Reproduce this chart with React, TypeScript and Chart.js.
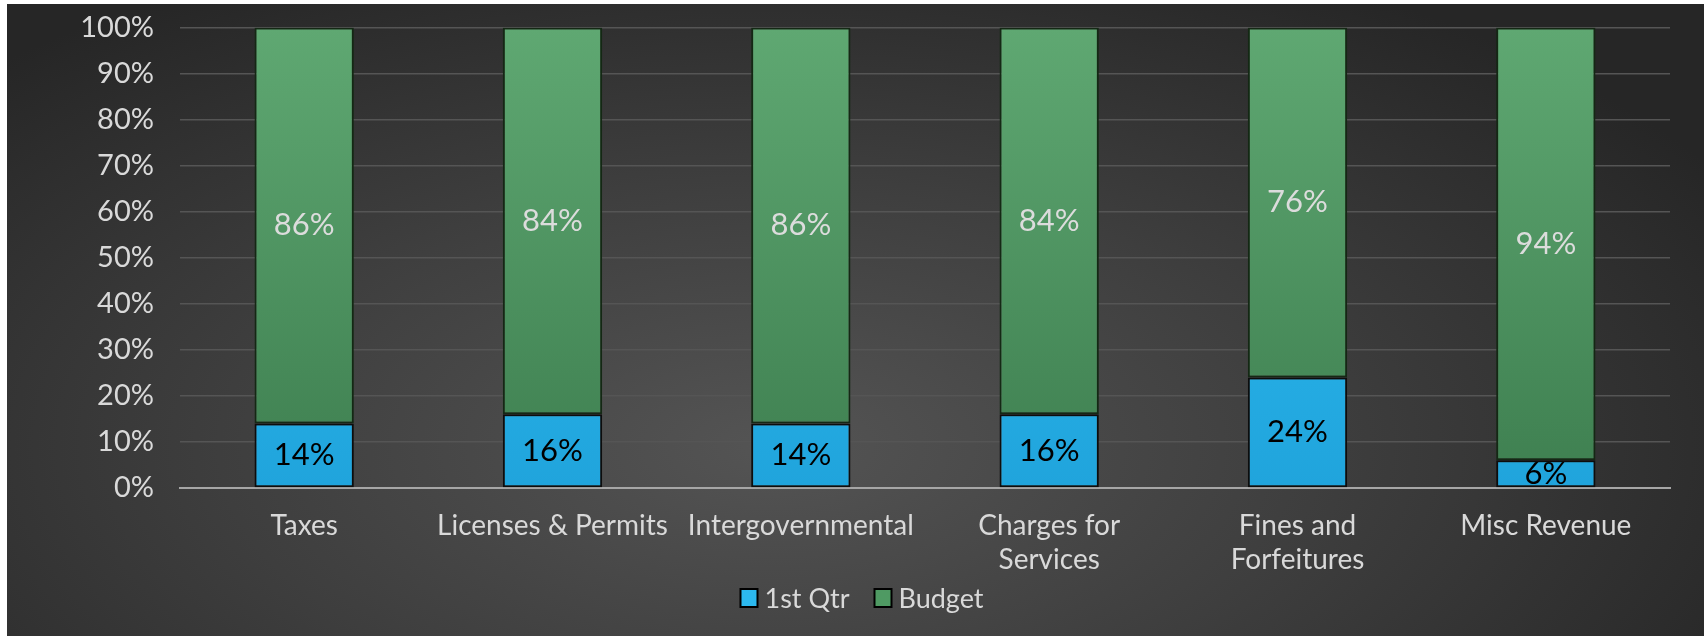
import React, { useEffect, useRef } from "react";
import { Chart, registerables } from "chart.js";

Chart.register(...registerables);

const categories: (string | string[])[] = [
  "Taxes",
  "Licenses & Permits",
  "Intergovernmental",
  ["Charges for", "Services"],
  ["Fines and", "Forfeitures"],
  "Misc Revenue",
];
const firstQtr = [14, 16, 14, 16, 24, 6];
const budget = [86, 84, 86, 84, 76, 94];
const yTicks = [0, 10, 20, 30, 40, 50, 60, 70, 80, 90, 100];
const seriesNames = ["1st Qtr", "Budget"];
const seriesColors = ["#2cb9ef", "#4f9a63"];

const FONT = "Lato, 'Open Sans', sans-serif";

const dataLabels = {
  id: "dataLabels",
  afterDatasetsDraw(chart: any) {
    const ctx = chart.ctx;
    ctx.save();
    ctx.font = `31px ${FONT}`;
    ctx.textAlign = "center";
    ctx.textBaseline = "middle";
    chart.data.datasets.forEach((ds: any, di: number) => {
      const meta = chart.getDatasetMeta(di);
      meta.data.forEach((el: any, i: number) => {
        const v = ds.data[i];
        ctx.fillStyle = di === 0 ? "#000000" : "#dcdcdc";
        ctx.fillText(`${v}%`, el.x, (el.y + el.base) / 2);
      });
    });
    ctx.restore();
  },
};

const customLegend = {
  id: "customLegend",
  afterDraw(chart: any) {
    const ctx = chart.ctx;
    ctx.save();
    ctx.font = `27px ${FONT}`;
    ctx.textBaseline = "middle";
    ctx.textAlign = "left";
    const boxW = 17;
    const boxH = 18;
    const gapBox = 7;
    const gapItem = 25;
    const widths = seriesNames.map((t) => ctx.measureText(t).width);
    const total =
      widths.reduce((a, w) => a + boxW + gapBox + w, 0) + gapItem * (seriesNames.length - 1);
    const cy = 594;
    let x = 855 - total / 2;
    seriesNames.forEach((t, i) => {
      ctx.fillStyle = seriesColors[i];
      ctx.fillRect(x, cy - boxH / 2, boxW, boxH);
      ctx.strokeStyle = "#000000";
      ctx.lineWidth = 2;
      ctx.strokeRect(x, cy - boxH / 2, boxW, boxH);
      ctx.fillStyle = "#d9d9d9";
      ctx.fillText(t, x + boxW + gapBox, cy + 1);
      x += boxW + gapBox + widths[i] + gapItem;
    });
    ctx.restore();
  },
};

function vGrad(chart: any, top: string, bottom: string) {
  const { ctx, chartArea } = chart;
  if (!chartArea) return top;
  const g = ctx.createLinearGradient(0, chartArea.top, 0, chartArea.bottom);
  g.addColorStop(0, top);
  g.addColorStop(1, bottom);
  return g;
}

export default function App() {
  const ref = useRef<HTMLCanvasElement | null>(null);
  useEffect(() => {
    if (!ref.current) return;
    const chart = new Chart(ref.current, {
      type: "bar",
      data: {
        labels: categories as any,
        datasets: [
          {
            label: seriesNames[0],
            data: firstQtr,
            backgroundColor: (c: any) => vGrad(c.chart, "#31c2f6", "#20a4dc"),
            borderColor: "#0d0d0d",
            borderWidth: 2,
            borderSkipped: false,
            barPercentage: 0.8,
            categoryPercentage: 0.5,
          },
          {
            label: seriesNames[1],
            data: budget,
            backgroundColor: (c: any) => vGrad(c.chart, "#5fa872", "#3e7f50"),
            borderColor: "#142814",
            borderWidth: 2,
            borderSkipped: false,
            barPercentage: 0.8,
            categoryPercentage: 0.5,
          },
        ],
      },
      options: {
        animation: false,
        responsive: false,
        maintainAspectRatio: false,
        layout: { padding: { left: 0, right: 34, top: 0, bottom: 0 } },
        plugins: {
          tooltip: { enabled: false },
          legend: { display: false },
        },
        scales: {
          x: {
            stacked: true,
            grid: { display: false, drawTicks: false },
            border: { display: true, color: "#a6a6a6", width: 2 },
            ticks: {
              color: "#d9d9d9",
              font: { family: FONT, size: 28, lineHeight: 1.22 },
              padding: 21,
              maxRotation: 0,
              autoSkip: false,
            },
            afterFit: (s: any) => {
              s.height = 148;
            },
          },
          y: {
            stacked: true,
            min: 0,
            max: 100,
            afterBuildTicks: (s: any) => {
              s.ticks = yTicks.map((v) => ({ value: v }));
            },
            grid: {
              color: "#555555",
              lineWidth: 1.5,
              drawTicks: true,
              tickLength: 20,
              tickColor: "rgba(0,0,0,0)",
            },
            border: { display: false },
            ticks: {
              color: "#d9d9d9",
              font: { family: FONT, size: 29 },
              padding: 6,
              callback: (v: any) => `${v}%`,
            },
            afterFit: (s: any) => {
              s.width = 173;
            },
          },
        },
      },
      plugins: [dataLabels, customLegend],
    });
    return () => chart.destroy();
  }, []);

  return (
    <div
      style={{
        position: "absolute",
        left: 7,
        top: 4,
        width: 1697,
        height: 632,
        background:
          "radial-gradient(ellipse 65% 85% at 45% 70%, #545454 0%, #3e3e3e 50%, #262626 100%)",
      }}
    >
      <canvas ref={ref} width={1697} height={632} style={{ display: "block" }} />
    </div>
  );
}
